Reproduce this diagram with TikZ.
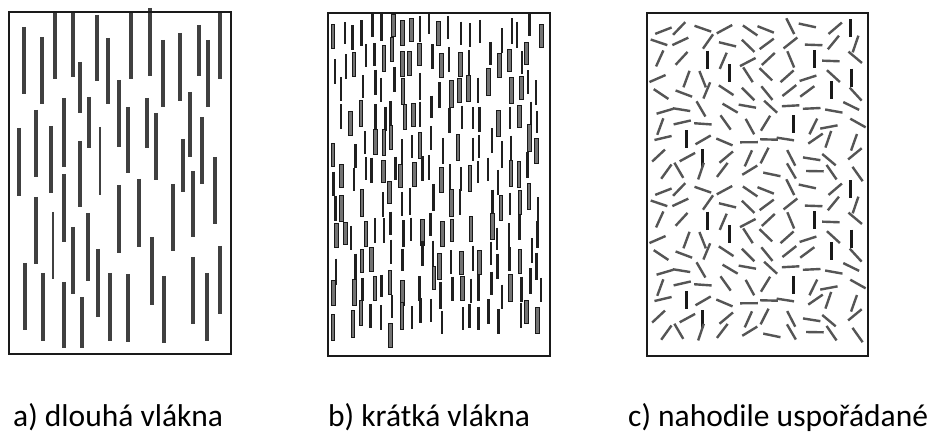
\documentclass[tikz,border=0pt]{standalone}
\usepackage{fontspec}
\setmainfont{Carlito}
\definecolor{fa}{HTML}{404040}
\definecolor{fc}{HTML}{555555}
\definecolor{bord}{HTML}{1A1A1A}
\newcommand{\cTile}[1]{%
  \pgfmathsetseed{11}%
  \foreach \j in {0,...,9}{%
    \foreach \i in {0,...,9}{%
      \pgfmathsetmacro{\xx}{662+\i*21.3+(rnd-0.5)*9}%
      \pgfmathsetmacro{\yy}{28+#1+\j*16.1+(rnd-0.5)*6}%
      \pgfmathsetmacro{\ang}{-72+rnd*144}%
      \pgfmathsetmacro{\vv}{rnd}%
      \pgfmathtruncatemacro{\blk}{\vv<0.07}%
      \ifnum\blk=1
        \draw[fibCb] (\xx,\yy-9) -- (\xx,\yy+9);
      \else
        \draw[fibC] (\xx,\yy) ++(\ang:-8.8) -- ++(\ang:17.6);
      \fi
    }%
  }%
}
\begin{document}
\begin{tikzpicture}[x=1pt,y=-1pt,
  frame/.style={draw=bord,line width=2.2pt},
  fibA/.style={draw=fa,line width=4pt},
  fibBl/.style={draw=black!88,line width=2.5pt},
  fibBo/.style={fill=black!55,draw=black!90,line width=0.9pt},
  fibC/.style={draw=fc,line width=2.4pt},
  fibCb/.style={draw=black!90,line width=3pt},
  lab/.style={anchor=base west,inner sep=0pt,font=\fontsize{31.5}{36}\selectfont}]
\useasboundingbox[fill=white] (0,0) rectangle (931,435);

% ---------------- panel a: long fibres
\foreach \x/\a/\b in {24/27/94,42/37/104,55/12/79,73/12/77,80/62/113,97/15/81,
  108/38/104,131/12/79,150/8/76,163/40/107,180/33/101,199/25/76,208/40/107,220/12/79,
  19/128/196,36/110/177,51/126/193,64/98/167,64/174/242,80/141/207,89/97/148,
  119/80/147,128/107/173,139/179/247,147/98/148,156/113/180,183/139/192,190/92/157,
  193/171/237,202/117/184,215/157/224,
  36/197/264,73/227/294,88/213/281,119/185/253,173/184/251,
  25/263/330,43/273/341,64/282/348,82/297/348,98/249/317,110/273/341,128/274/342,
  152/237/305,164/276/343,193/257/324,207/273/341,220/246/314}
  {\draw[fibA] (\x,\a) -- (\x,\b);}
\draw[fa,line width=2.8pt] (100,127) -- (100,195);
\draw[fa,line width=2.8pt] (53,212) -- (53,279);
\draw[frame] (9,12) rectangle (231,354);

% ---------------- panel b: short fibres
\pgfmathsetseed{7}
\foreach \i in {0,...,21}{
  \pgfmathsetmacro{\xc}{334+\i*9.75}
  \pgfmathsetmacro{\yo}{12+rnd*17}
  \foreach \j in {0,...,11}{
    \pgfmathsetmacro{\xx}{min(max(\xc+(rnd-0.5)*6,333),545)}
    \pgfmathsetmacro{\yt}{max(\yo+\j*28.5+(rnd-0.5)*8,12)}
    \pgfmathsetmacro{\yb}{\yt+22+rnd*5}
    \pgfmathsetmacro{\kind}{rnd}
    \pgfmathsetmacro{\sk}{rnd}
    \pgfmathtruncatemacro{\ok}{(\yb<349)&&(\sk>0.12)}
    \pgfmathtruncatemacro{\ol}{\kind<0.33}
    \ifnum\ok=1
      \ifnum\ol=1
        \filldraw[fibBo] (\xx-1.8,\yt) rectangle (\xx+1.8,\yb);
      \else
        \draw[fibBl] (\xx,\yt) -- (\xx,\yb);
      \fi
    \fi
  }
}
\draw[frame] (328,13) rectangle (550,356);

% ---------------- panel c: random fibres
\cTile{0}
\cTile{161}
\draw[frame] (647,13) rectangle (868,356);

% ---------------- labels
\node[lab] (la) at (13,426) {a) dlouhá vlákna};
\node[lab] (lb) at (328,426) {b) krátká vlákna};
\node[lab] (lc) at (628,426) {c) nahodile uspořádané};
\end{tikzpicture}
\end{document}
